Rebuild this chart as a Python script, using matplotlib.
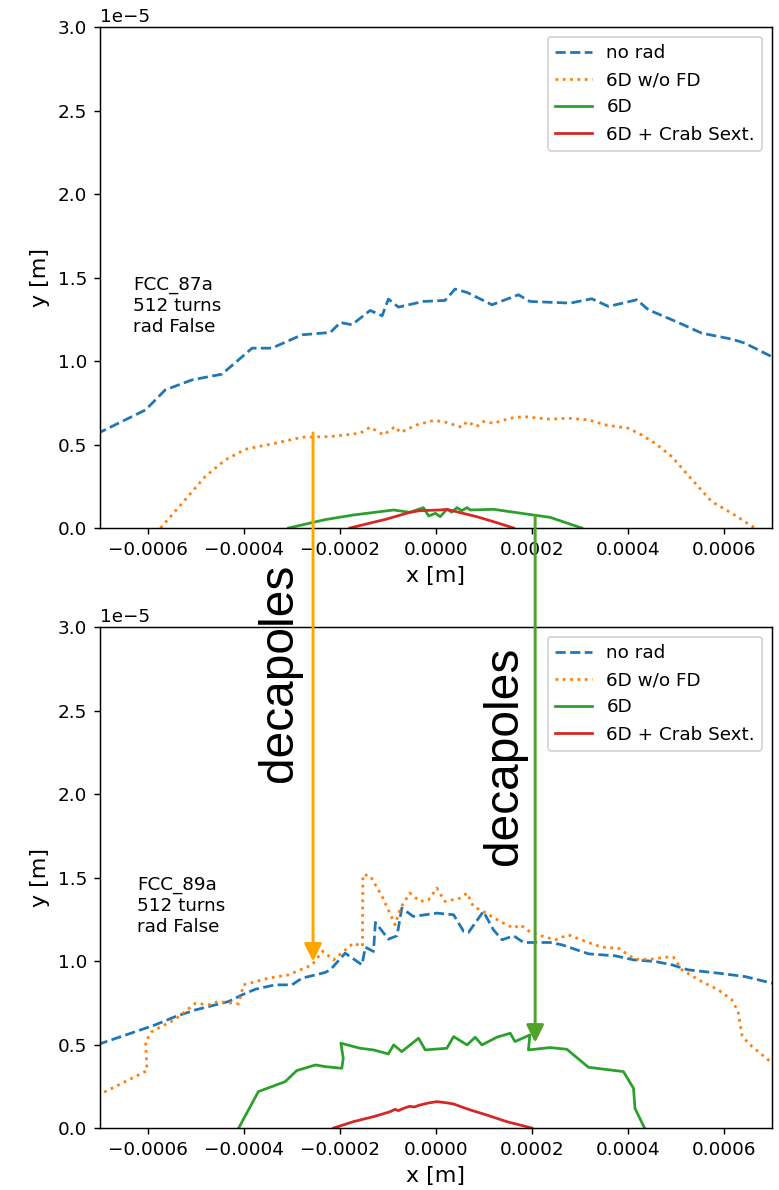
import numpy as np
import matplotlib
matplotlib.use("Agg")
import matplotlib.pyplot as plt
from matplotlib.patches import ConnectionPatch

# x in micrometres, y in units of 1e-5 m
labels = ["no rad", "6D w/o FD", "6D", "6D + Crab Sext."]

# FCC_87a
a_norad_x = [-707, -605, -564, -508, -446, -383, -342, -279, -220, -199, -175, -137, -112, -99, -78,
             -26, 19, 40, 65, 117, 172, 196, 280, 325, 360, 419, 443, 505, 554, 617, 644, 705]
a_norad_y = [0.564, 0.708, 0.828, 0.888, 0.922, 1.078, 1.078, 1.158, 1.172, 1.232, 1.218, 1.304, 1.272,
             1.372, 1.324, 1.358, 1.364, 1.432, 1.412, 1.338, 1.398, 1.358, 1.348, 1.374, 1.328, 1.368,
             1.308, 1.232, 1.168, 1.132, 1.108, 1.02]
a_nofd_x = [-574, -529, -481, -439, -397, -335, -279, -220, -158, -137, -109, -85, -74, -40, -5, 16, 54,
            65, 85, 99, 120, 155, 183, 238, 276, 318, 353, 401, 429, 457, 492, 519, 547, 575, 617, 665]
a_nofd_y = [0.0, 0.148, 0.308, 0.408, 0.472, 0.508, 0.544, 0.548, 0.568, 0.604, 0.558, 0.608, 0.572,
            0.618, 0.644, 0.638, 0.604, 0.638, 0.608, 0.638, 0.628, 0.658, 0.668, 0.652, 0.658, 0.648,
            0.618, 0.598, 0.558, 0.508, 0.428, 0.338, 0.248, 0.158, 0.088, 0.0]
a_6d_x = [-307, -231, -172, -88, -54, -26, -15, -1, 9, 23, 33, 44, 54, 65, 72, 120, 203, 238, 304]
a_6d_y = [0.0, 0.05, 0.078, 0.108, 0.094, 0.122, 0.072, 0.088, 0.068, 0.112, 0.095, 0.122, 0.104,
          0.122, 0.108, 0.112, 0.078, 0.064, 0.0]
a_crab_x = [-179, -102, -54, -33, 9, 23, 51, 85, 127, 162]
a_crab_y = [0.0, 0.054, 0.094, 0.104, 0.108, 0.112, 0.092, 0.068, 0.032, 0.0]

# FCC_89a
b_norad_x = [-705, -585, -543, -501, -432, -404, -376, -335, -300, -279, -231, -220, -189, -154, -147,
             -130, -126, -99, -81, -71, -47, 2, 37, 58, 68, 99, 120, 138, 162, 183, 238, 263, 318, 374,
             412, 457, 492, 526, 589, 644, 705]
b_norad_y = [0.50, 0.618, 0.668, 0.708, 0.758, 0.798, 0.832, 0.858, 0.858, 0.898, 0.932, 0.948, 1.048,
             0.978, 1.084, 1.058, 1.232, 1.132, 1.152, 1.318, 1.268, 1.288, 1.278, 1.178, 1.172, 1.298,
             1.188, 1.128, 1.152, 1.112, 1.112, 1.098, 1.044, 1.032, 1.008, 0.998, 0.978, 0.948, 0.928,
             0.908, 0.865]
b_nofd_x = [-705, -602, -605, -592, -543, -501, -474, -453, -411, -401, -349, -307, -258, -236, -213,
            -172, -153, -152, -137, -112, -85, -74, -54, -33, -15, 2, 19, 51, 65, 78, 99, 134, 162, 176,
            200, 249, 276, 318, 346, 380, 394, 415, 450, 478, 495, 513, 554, 589, 617, 630, 638, 651,
            693, 705]
b_nofd_y = [0.195, 0.344, 0.518, 0.578, 0.652, 0.748, 0.738, 0.758, 0.744, 0.858, 0.898, 0.918, 0.978,
            1.06, 1.008, 1.108, 1.088, 1.518, 1.512, 1.388, 1.218, 1.318, 1.408, 1.358, 1.368, 1.438,
            1.358, 1.378, 1.408, 1.328, 1.298, 1.238, 1.198, 1.218, 1.168, 1.128, 1.158, 1.112, 1.084,
            1.078, 1.052, 1.012, 1.012, 1.024, 1.024, 0.948, 0.878, 0.828, 0.768, 0.698, 0.558, 0.508,
            0.408, 0.39]
b_6d_x = [-411, -370, -314, -290, -251, -231, -196, -193, -198, -158, -130, -99, -88, -71, -36, -22, 23,
          37, 65, 82, 96, 127, 155, 165, 196, 193, 238, 273, 318, 391, 412, 415, 435]
b_6d_y = [0.0, 0.218, 0.278, 0.344, 0.378, 0.368, 0.358, 0.418, 0.508, 0.478, 0.468, 0.444, 0.498,
          0.458, 0.538, 0.468, 0.478, 0.548, 0.498, 0.544, 0.498, 0.544, 0.568, 0.518, 0.558, 0.468,
          0.482, 0.472, 0.364, 0.338, 0.238, 0.118, 0.0]
b_crab_x = [-213, -172, -130, -110, -95, -85, -78, -67, -55, -45, -33, -15, 2, 20, 37, 55, 72, 106,
            148, 189, 200]
b_crab_y = [0.0, 0.038, 0.068, 0.085, 0.098, 0.112, 0.104, 0.118, 0.13, 0.126, 0.138, 0.15, 0.158,
            0.152, 0.144, 0.125, 0.108, 0.078, 0.038, 0.008, 0.0]

panels = [
    ("FCC_87a\n512 turns\nrad False",
     [(a_norad_x, a_norad_y), (a_nofd_x, a_nofd_y), (a_6d_x, a_6d_y), (a_crab_x, a_crab_y)]),
    ("FCC_89a\n512 turns\nrad False",
     [(b_norad_x, b_norad_y), (b_nofd_x, b_nofd_y), (b_6d_x, b_6d_y), (b_crab_x, b_crab_y)]),
]
styles = [("C0", "--"), ("C1", ":"), ("C2", "-"), ("C3", "-")]

dpi = 132.5
fig = plt.figure(figsize=(779 / dpi, 1190 / dpi), dpi=dpi)
ax_top = fig.add_axes([0.1284, 0.5563, 0.8622, 0.4206])
ax_bot = fig.add_axes([0.1284, 0.0521, 0.8622, 0.4206])

for ax, (info, curves), tx in zip([ax_top, ax_bot], panels, [0.049, 0.055]):
    for (xs, ys), (c, ls), lab in zip(curves, styles, labels):
        ax.plot(np.array(xs) * 1e-6, np.array(ys) * 1e-5, color=c, ls=ls, label=lab)
    ax.set_xlim(-0.0007, 0.0007)
    ax.set_ylim(0, 3e-5)
    ax.set_xlabel("x [m]", fontsize=12)
    ax.set_ylabel("y [m]", fontsize=12)
    ax.text(tx, 0.503, info, transform=ax.transAxes, va="top", ha="left")
    ax.legend(loc="upper right")

# arrows linking the two panels
arrows = [(-0.000256, 0.57e-5, 0.998e-5, "orange"), (0.000207, 0.075e-5, 0.512e-5, "#52a12a")]
for x, y0, y1, col in arrows:
    con = ConnectionPatch(xyA=(x, y0), coordsA=ax_top.transData, xyB=(x, y1), coordsB=ax_bot.transData,
                          arrowstyle="-|>", color=col, lw=1.6, mutation_scale=20)
    fig.add_artist(con)

fig.text(0.3594, 0.4345, "decapoles", rotation=90, fontsize=26, family="Liberation Sans",
         ha="center", va="center")
fig.text(0.648, 0.3647, "decapoles", rotation=90, fontsize=26, family="Liberation Sans",
         ha="center", va="center")

fig.savefig("out.png", dpi=dpi)
